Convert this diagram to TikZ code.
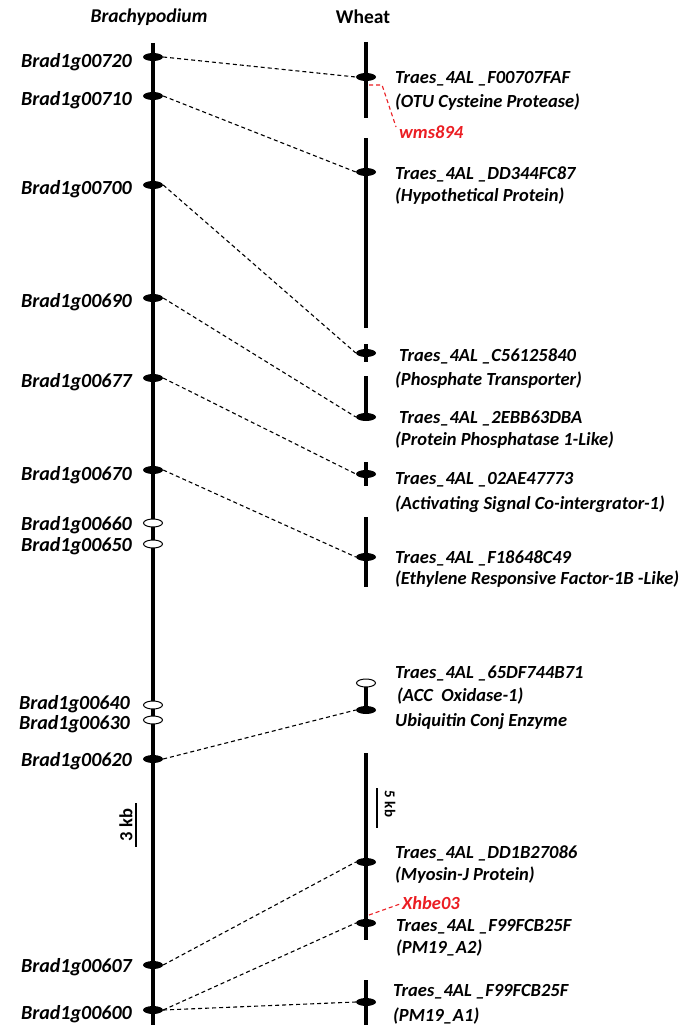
\documentclass[tikz,border=0pt]{standalone}
\usepackage{fontspec}
\setmainfont{Carlito}
\usetikzlibrary{shapes.geometric}
\definecolor{mred}{RGB}{235,30,35}
\begin{document}
\begin{tikzpicture}[x=1pt,y=-1pt,
  chrom/.style={line width=3.5pt,black},
  fmark/.style={ellipse,fill=black,minimum width=20pt,minimum height=8pt,inner sep=0pt},
  omark/.style={ellipse,draw=black,fill=white,line width=1pt,minimum width=19pt,minimum height=8pt,inner sep=0pt},
  link/.style={line width=1.1pt,dash pattern=on 4pt off 3pt},
  redlink/.style={mred,line width=1.1pt,dash pattern=on 4pt off 3pt},
  blab/.style={anchor=base east,inner sep=0pt,font=\bfseries\itshape\fontsize{20}{22}\selectfont},
  wlab/.style={anchor=base west,inner sep=0pt,font=\bfseries\itshape\fontsize{18.5}{20}\selectfont},
  rlab/.style={wlab,text=mred},
  ttl/.style={inner sep=0pt,font=\bfseries\fontsize{19.5}{21}\selectfont}]
\useasboundingbox (0,0) rectangle (694,1025);
% titles
\node[ttl,font=\bfseries\itshape\fontsize{19.5}{21}\selectfont] (tb) at (149,17) {Brachypodium};
\node[ttl] (tw) at (363,17) {Wheat};
% chromosomes
\draw[chrom] (153,43) -- (153,1025);
\draw[chrom] (366,42) -- (366,118);
\draw[chrom] (366,138) -- (366,328);
\draw[chrom] (366,344) -- (366,362);
\draw[chrom] (366,376) -- (366,417);
\draw[chrom] (366,462) -- (366,486);
\draw[chrom] (366,517) -- (366,587);
\draw[chrom] (366,683) -- (366,710);
\draw[chrom] (366,753) -- (366,940);
\draw[chrom] (366,980) -- (366,1025);
% Brachypodium markers
\node[fmark] (b720) at (153,57) {};
\node[fmark] (b710) at (153,96) {};
\node[fmark] (b700) at (153,185) {};
\node[fmark] (b690) at (153,298) {};
\node[fmark] (b677) at (153,378) {};
\node[fmark] (b670) at (153,470) {};
\node[omark] (b660) at (153,523) {};
\node[omark] (b650) at (153,544) {};
\node[omark] (b640) at (153,705) {};
\node[omark] (b630) at (153,720) {};
\node[fmark] (b620) at (153,759) {};
\node[fmark] (b607) at (153,965) {};
\node[fmark] (b600) at (153,1010) {};
% Brachypodium labels
\node[blab] (l720) at (132,67) {Brad1g00720};
\node[blab] (l710) at (132,105) {Brad1g00710};
\node[blab] (l700) at (132,194) {Brad1g00700};
\node[blab] (l690) at (132,307) {Brad1g00690};
\node[blab] (l677) at (132,387) {Brad1g00677};
\node[blab] (l670) at (132,480) {Brad1g00670};
\node[blab] (l660) at (132,530) {Brad1g00660};
\node[blab] (l650) at (132,551) {Brad1g00650};
\node[blab] (l640) at (130,709) {Brad1g00640};
\node[blab] (l630) at (130,729) {Brad1g00630};
\node[blab] (l620) at (132,766) {Brad1g00620};
\node[blab] (l607) at (132,972) {Brad1g00607};
\node[blab] (l600) at (132,1019) {Brad1g00600};
% Wheat markers
\node[fmark] (w1) at (366,77) {};
\node[fmark] (w2) at (366,172) {};
\node[fmark] (w3) at (366,353) {};
\node[fmark] (w4) at (366,417) {};
\node[fmark] (w5) at (366,474) {};
\node[fmark] (w6) at (366,557) {};
\node[omark] (w7) at (366,683) {};
\node[fmark] (w8) at (366,710) {};
\node[fmark] (w9) at (366,862) {};
\node[fmark] (w10) at (366,923) {};
\node[fmark] (w11) at (366,1002) {};
% Wheat labels
\node[wlab] (t1a) at (395,84) {Traes\_4AL \_F00707FAF};
\node[wlab] (t1b) at (395,107) {(OTU Cysteine Protease)};
\node[rlab] (wms) at (399,138) {wms894};
\node[wlab] (t2a) at (395,179) {Traes\_4AL \_DD344FC87};
\node[wlab] (t2b) at (395,201) {(Hypothetical Protein)};
\node[wlab] (t3a) at (399,361) {Traes\_4AL \_C56125840};
\node[wlab] (t3b) at (395,385) {(Phosphate Transporter)};
\node[wlab] (t4a) at (399,423) {Traes\_4AL \_2EBB63DBA};
\node[wlab] (t4b) at (395,445) {(Protein Phosphatase 1-Like)};
\node[wlab] (t5a) at (395,484) {Traes\_4AL \_02AE47773};
\node[wlab] (t5b) at (395,509) {(Activating Signal Co-intergrator-1)};
\node[wlab] (t6a) at (395,563) {Traes\_4AL \_F18648C49};
\node[wlab] (t6b) at (395,584) {(Ethylene Responsive Factor-1B -Like)};
\node[wlab] (t7a) at (395,678) {Traes\_4AL \_65DF744B71};
\node[wlab] (t7b) at (397,701) {(ACC\ \ Oxidase-1)};
\node[wlab] (t8) at (395,726) {Ubiquitin Conj Enzyme};
\node[wlab] (t9a) at (395,858) {Traes\_4AL \_DD1B27086};
\node[wlab] (t9b) at (395,880) {(Myosin-J Protein)};
\node[rlab] (xh) at (402,909) {Xhbe03};
\node[wlab] (t10a) at (396,931) {Traes\_4AL \_F99FCB25F};
\node[wlab] (t10b) at (396,953) {(PM19\_A2)};
\node[wlab] (t11a) at (393,996) {Traes\_4AL \_F99FCB25F};
\node[wlab] (t11b) at (393,1021) {(PM19\_A1)};
% connectors
\draw[link] (b720.east) -- (w1.west);
\draw[link] (b710.east) -- (w2.west);
\draw[link] (b700.east) -- (w3.west);
\draw[link] (b690.east) -- (w4.west);
\draw[link] (b677.east) -- (w5.west);
\draw[link] (b670.east) -- (w6.west);
\draw[link] (b620.east) -- (w8.west);
\draw[link] (b607.east) -- (w9.west);
\draw[link] (b600.east) -- (w10.west);
\draw[link] (b600.east) -- (w11.west);
% red markers
\coordinate (r1) at (369,85);
\coordinate (r2) at (382,85);
\coordinate (r3) at (396,127);
\draw[redlink] (r1) -- (r2) -- (r3);
\coordinate (r4) at (369,915);
\coordinate (r5) at (400,904);
\draw[redlink] (r4) -- (r5);
% scale bars
\coordinate (s3a) at (136,803);
\coordinate (s3b) at (136,847);
\draw[line width=2.5pt] (s3a) -- (s3b);
\node[inner sep=0pt,rotate=90,font=\bfseries\fontsize{18.5}{20}\selectfont] (k3) at (126,825) {3 kb};
\coordinate (s5a) at (377,788);
\coordinate (s5b) at (377,828);
\draw[line width=2.5pt] (s5a) -- (s5b);
\node[inner sep=0pt,rotate=-90,font=\bfseries\fontsize{15}{17}\selectfont] (k5) at (390,804) {5 kb};
\end{tikzpicture}
\end{document}
